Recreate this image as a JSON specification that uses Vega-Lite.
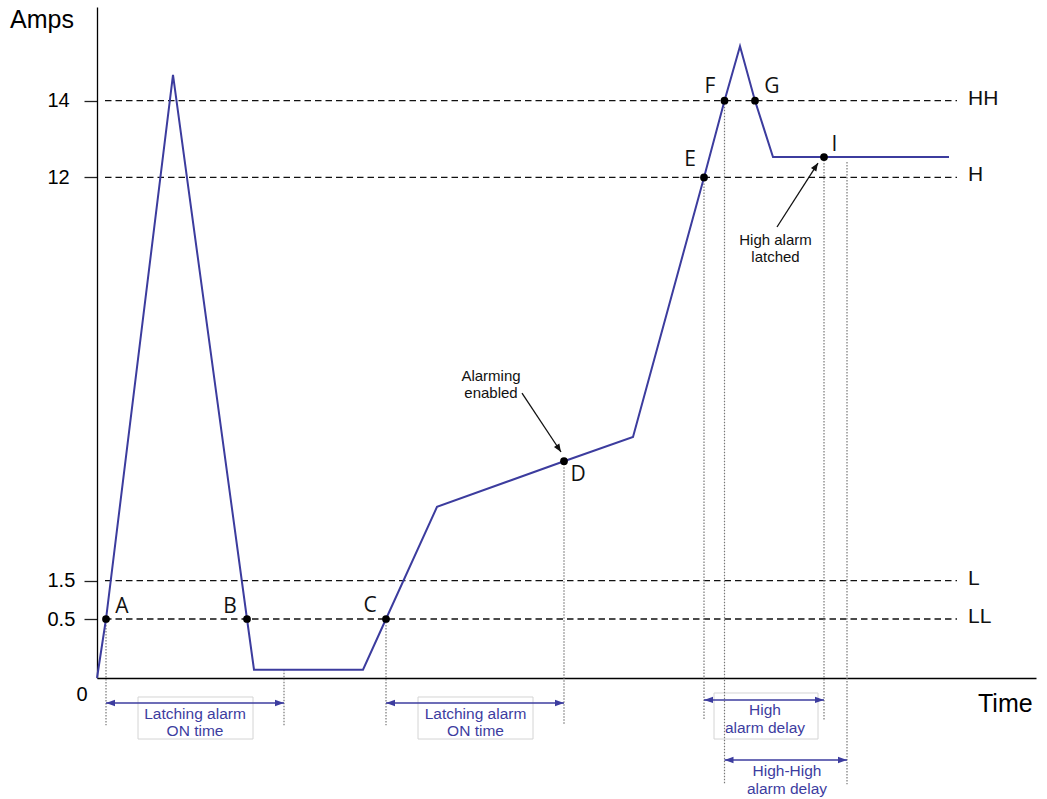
{
  "$schema": "https://vega.github.io/schema/vega-lite/v6.json",
  "autosize": {"type": "none"},
  "padding": {"left": 97, "top": 7, "right": 11, "bottom": 121},
  "width": 939,
  "height": 671,
  "config": {"view": {"stroke": null}, "font": "Liberation Sans"},
  "encoding": {
    "y": {"field": "v", "type": "quantitative", "scale": {"domain": [0, 0.5, 16.44], "range": [671, 612, 0], "nice": false, "zero": false},
      "axis": {"title": null, "grid": false, "values": [0.5, 1.5, 12, 14], "domainColor": "#000000", "domainWidth": 1.3,
        "tickSize": 13, "tickColor": "#222222", "tickWidth": 1.3, "labelAlign": "left", "labelPadding": 37,
        "labelFontSize": 20, "labelColor": "#000000", "labelFont": "Liberation Sans", "labelExpr": "datum.value"}}
  },
  "layer": [
    {
      "data": {"values": [
        {"level": "HH", "v": 14}, {"level": "H", "v": 12}, {"level": "L", "v": 1.5}, {"level": "LL", "v": 0.5}
      ]},
      "layer": [
        {
          "mark": {"type": "rule", "color": "#111111", "strokeDash": [6.5, 4], "strokeWidth": 1.3},
          "encoding": {"x": {"datum": 0.8, "type": "quantitative"}, "x2": {"datum": 86.0}}
        },
        {
          "mark": {"type": "text", "align": "left", "baseline": "alphabetic", "dy": 4, "fontSize": 21, "color": "#111111", "font": "Liberation Sans"},
          "encoding": {"x": {"datum": 87.1, "type": "quantitative"}, "text": {"field": "level"}}
        }
      ]
    },
    {
      "encoding": {
        "x": {"field": "t", "type": "quantitative", "scale": {"domain": [0, 93.9], "nice": false, "zero": false},
          "axis": {"title": null, "ticks": false, "labels": false, "grid": false, "domainColor": "#000000", "domainWidth": 1.3}}
      },
      "layer": [
        {
          "data": {"values": [
            {"t": 4.1, "t2": 15.6, "v": -0.161, "v2": -0.517},
            {"t": 32.1, "t2": 43.6, "v": -0.161, "v2": -0.517},
            {"t": 61.7, "t2": 72.1, "v": -0.127, "v2": -0.517}
          ]},
          "mark": {"type": "rect", "fill": null, "stroke": "#d4d4d4", "strokeWidth": 1},
          "encoding": {"x2": {"field": "t2"}, "y2": {"field": "v2"}}
        },
        {
          "data": {"values": [
            {"t": 0.9, "v": 0.5, "v2": -0.4},
            {"t": 18.7, "v": 0.07, "v2": -0.4},
            {"t": 28.9, "v": 0.5, "v2": -0.4},
            {"t": 46.7, "v": 4.61, "v2": -0.4},
            {"t": 60.7, "v": 12, "v2": -0.356},
            {"t": 62.75, "v": 14, "v2": -0.9},
            {"t": 72.7, "v": 12.53, "v2": -0.356},
            {"t": 75.0, "v": 12.4, "v2": -0.9}
          ]},
          "mark": {"type": "rule", "color": "#777777", "strokeDash": [1.5, 1.5], "strokeWidth": 1.2},
          "encoding": {"y2": {"field": "v2"}}
        },
        {
          "data": {"values": [
            {"t": 0.9, "t2": 18.7, "v": -0.212},
            {"t": 28.9, "t2": 46.7, "v": -0.212},
            {"t": 60.7, "t2": 72.7, "v": -0.186},
            {"t": 62.75, "t2": 75.0, "v": -0.695}
          ]},
          "layer": [
            {"mark": {"type": "rule", "color": "#3d3d9f", "strokeWidth": 1.5}, "encoding": {"x2": {"field": "t2"}}},
            {"mark": {"type": "point", "shape": "M0,0L1,-0.35L1,0.35Z", "filled": true, "size": 324, "color": "#3d3d9f", "opacity": 1, "strokeWidth": 0}},
            {"mark": {"type": "point", "shape": "M0,0L-1,-0.35L-1,0.35Z", "filled": true, "size": 324, "color": "#3d3d9f", "opacity": 1, "strokeWidth": 0},
              "encoding": {"x": {"field": "t2", "type": "quantitative"}}}
          ]
        },
        {
          "data": {"values": [
            {"t": 0, "v": 0}, {"t": 0.9, "v": 0.5}, {"t": 7.6, "v": 14.67}, {"t": 15.0, "v": 0.5},
            {"t": 15.7, "v": 0.07}, {"t": 26.6, "v": 0.07}, {"t": 28.9, "v": 0.5}, {"t": 34.0, "v": 3.42},
            {"t": 46.7, "v": 4.61}, {"t": 53.6, "v": 5.24}, {"t": 60.7, "v": 12}, {"t": 62.75, "v": 14},
            {"t": 64.3, "v": 15.42}, {"t": 65.8, "v": 14}, {"t": 67.6, "v": 12.53}, {"t": 72.7, "v": 12.53},
            {"t": 85.2, "v": 12.53}
          ]},
          "mark": {"type": "line", "color": "#3c3c9e", "strokeWidth": 2}
        },
        {
          "data": {"values": [
            {"name": "A", "t": 0.9, "v": 0.5}, {"name": "B", "t": 15.0, "v": 0.5}, {"name": "C", "t": 28.9, "v": 0.5},
            {"name": "D", "t": 46.7, "v": 4.61}, {"name": "E", "t": 60.7, "v": 12}, {"name": "F", "t": 62.75, "v": 14},
            {"name": "G", "t": 65.8, "v": 14}, {"name": "I", "t": 72.7, "v": 12.53}
          ]},
          "mark": {"type": "circle", "size": 60, "color": "#000000", "opacity": 1}
        },
        {
          "data": {"values": [
            {"text": "A", "t": 2.5, "v": 0.81}, {"text": "B", "t": 13.3, "v": 0.81}, {"text": "C", "t": 27.3, "v": 0.84},
            {"text": "D", "t": 48.1, "v": 4.25}, {"text": "E", "t": 59.3, "v": 12.45}, {"text": "F", "t": 61.3, "v": 14.35},
            {"text": "G", "t": 67.5, "v": 14.35}, {"text": "I", "t": 73.75, "v": 12.84}
          ]},
          "mark": {"type": "text", "font": "Open Sans", "fontSize": 21, "color": "#111111", "baseline": "middle", "align": "center"},
          "encoding": {"text": {"field": "text"}}
        },
        {
          "data": {"values": [
            {"text": "Latching alarm", "t": 9.8, "v": -0.305}, {"text": "ON time", "t": 9.8, "v": -0.449},
            {"text": "Latching alarm", "t": 37.85, "v": -0.305}, {"text": "ON time", "t": 37.85, "v": -0.449},
            {"text": "High", "t": 66.8, "v": -0.271}, {"text": "alarm delay", "t": 66.8, "v": -0.424},
            {"text": "High-High", "t": 69.0, "v": -0.788}, {"text": "alarm delay", "t": 69.0, "v": -0.941}
          ]},
          "mark": {"type": "text", "font": "Liberation Sans", "fontSize": 15.5, "color": "#3d3d9f", "baseline": "middle", "align": "center"},
          "encoding": {"text": {"field": "text"}}
        },
        {
          "data": {"values": [
            {"text": "Alarming", "t": 39.4, "v": 6.83}, {"text": "enabled", "t": 39.4, "v": 6.385},
            {"text": "High alarm", "t": 67.85, "v": 10.37}, {"text": "latched", "t": 67.85, "v": 9.93}
          ]},
          "mark": {"type": "text", "font": "Liberation Sans", "fontSize": 15, "color": "#111111", "baseline": "middle", "align": "center"},
          "encoding": {"text": {"field": "text"}}
        },
        {
          "data": {"values": [
            {"t": 42.5, "v": 6.385, "t2": 46.4, "v2": 4.85},
            {"t": 68.0, "v": 10.71, "t2": 72.1, "v2": 12.375}
          ]},
          "mark": {"type": "rule", "color": "#111111", "strokeWidth": 1.3},
          "encoding": {"x2": {"field": "t2"}, "y2": {"field": "v2"}}
        },
        {
          "data": {"values": [{"t": 46.4, "v": 4.85}]},
          "mark": {"type": "point", "shape": "M0,0L-0.4,1L0.4,1Z", "filled": true, "size": 256, "angle": 147, "color": "#111111", "opacity": 1, "strokeWidth": 0}
        },
        {
          "data": {"values": [{"t": 72.1, "v": 12.375}]},
          "mark": {"type": "point", "shape": "M0,0L-0.4,1L0.4,1Z", "filled": true, "size": 256, "angle": 33, "color": "#111111", "opacity": 1, "strokeWidth": 0}
        },
        {
          "data": {"values": [
            {"text": "Amps", "t": -8.7, "v": 16.1},
            {"text": "Time", "t": 88.1, "v": -0.22}
          ]},
          "mark": {"type": "text", "font": "Liberation Sans", "fontSize": 25, "color": "#000000", "baseline": "middle", "align": "left"},
          "encoding": {"text": {"field": "text"}}
        },
        {
          "data": {"values": [{"text": "0", "t": -1.5, "v": -0.144}]},
          "mark": {"type": "text", "font": "Liberation Sans", "fontSize": 20, "color": "#000000", "baseline": "middle", "align": "center"},
          "encoding": {"text": {"field": "text"}}
        }
      ]
    }
  ]
}
